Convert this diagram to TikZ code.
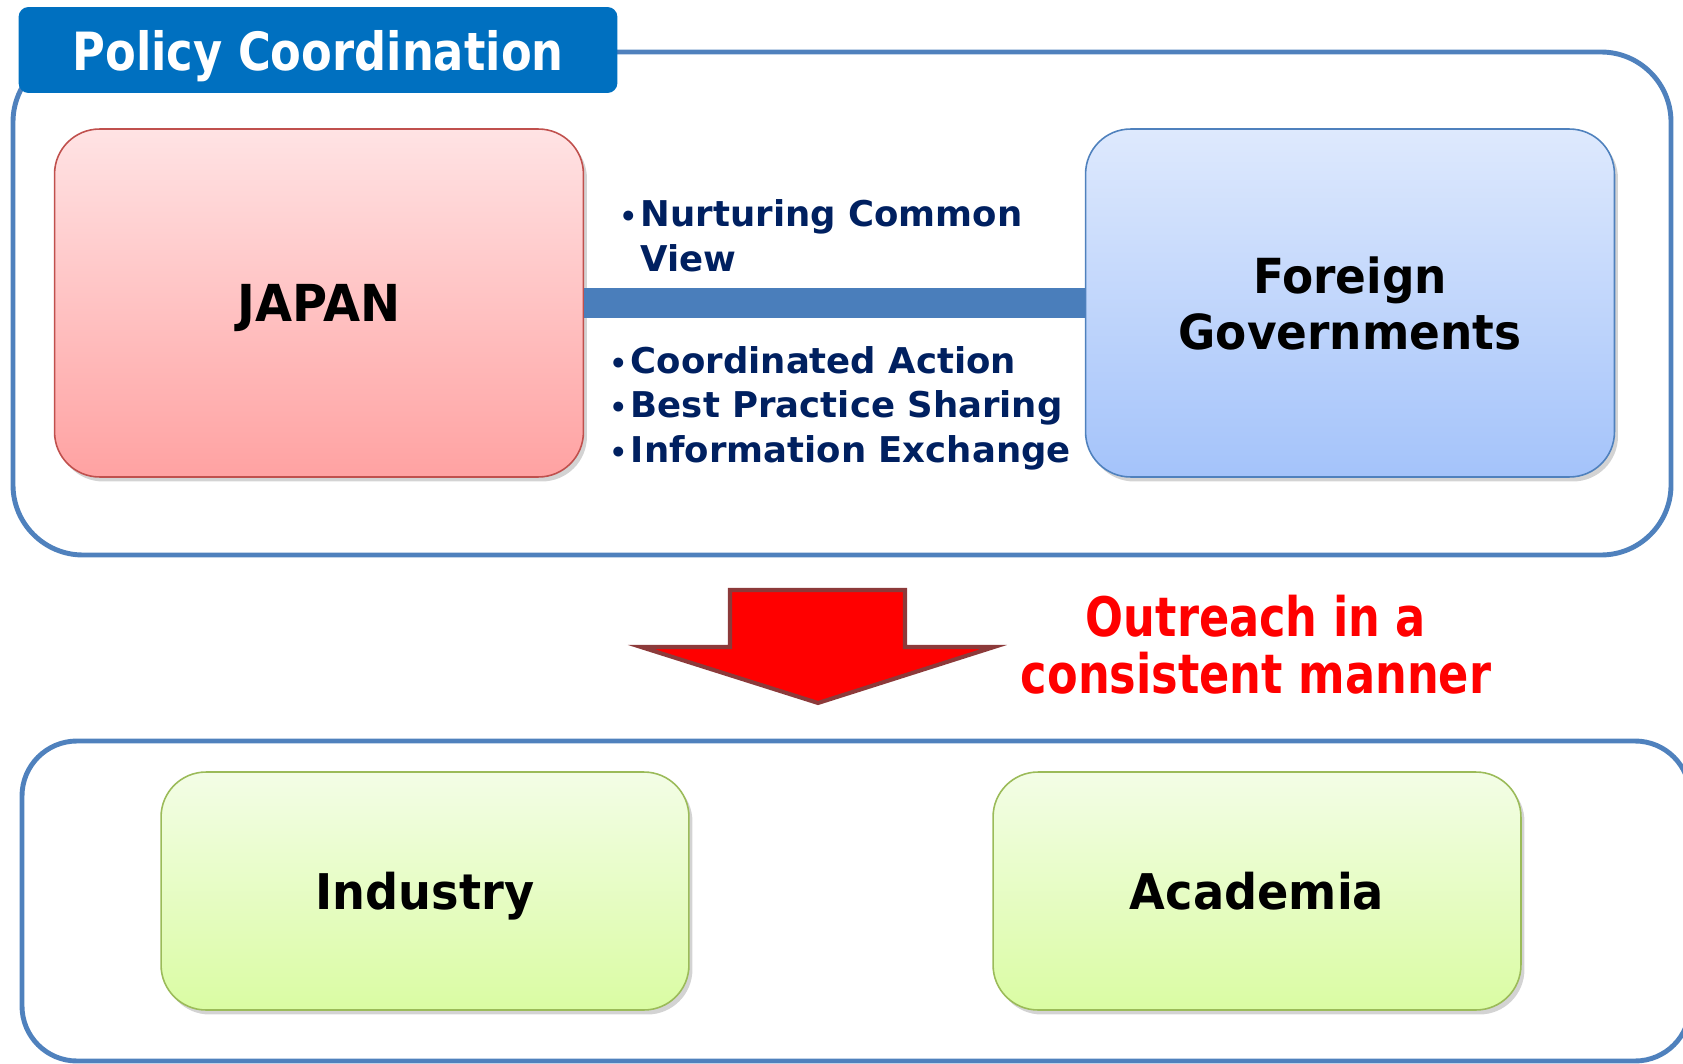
\documentclass[tikz,border=0pt]{standalone}
\usepackage{fontspec}
\setmainfont{DejaVu Sans}
\newfontfamily\tabfont[FakeStretch=0.85]{DejaVu Sans}
\newfontfamily\redfont[FakeStretch=0.82]{DejaVu Sans}
\newfontfamily\boxfont[FakeStretch=0.94]{DejaVu Sans}
\usetikzlibrary{shadows}
\definecolor{frameblue}{HTML}{4F81BD}
\definecolor{tabblue}{HTML}{0070C0}
\definecolor{barblue}{HTML}{4A7EBB}
\definecolor{navy}{HTML}{002060}
\definecolor{arrowedge}{HTML}{8C3A3A}
\definecolor{redtop}{HTML}{FFE3E4}
\definecolor{redbottom}{HTML}{FFA2A2}
\definecolor{rededge}{HTML}{C0504D}
\definecolor{bluetop}{HTML}{DEE9FD}
\definecolor{bluebottom}{HTML}{A4C3FA}
\definecolor{greentop}{HTML}{F3FDE6}
\definecolor{greenbottom}{HTML}{DAFCA3}
\definecolor{greenedge}{HTML}{9BBB59}
\newcommand{\bigdot}{{\fontsize{16}{16}\selectfont•}}

\begin{document}
\begin{tikzpicture}[x=0.02cm,y=-0.02cm,
    frame/.style={draw=frameblue, line width=2.8pt, rounded corners=1.4cm},
    box/.style={rounded corners=0.9cm, line width=0.9pt, inner sep=0pt, text depth=0pt,
        align=center, font=\boxfont\bfseries\fontsize{27.5}{32}\selectfont,
        drop shadow={shadow xshift=0.07cm, shadow yshift=-0.09cm, opacity=0.35}},
    redbox/.style={box, draw=rededge, top color=redtop, bottom color=redbottom,
        minimum width=10.58cm, minimum height=6.96cm},
    bluebox/.style={box, draw=frameblue, top color=bluetop, bottom color=bluebottom,
        minimum width=10.58cm, minimum height=6.96cm},
    greenbox/.style={box, draw=greenedge, top color=greentop, bottom color=greenbottom,
        minimum width=10.56cm, minimum height=4.76cm},
    bullets/.style={anchor=west, inner sep=0pt, text=navy, font=\bfseries\fontsize{20.2}{25.5}\selectfont}]

    \useasboundingbox (0,0) rectangle (1683,1064);
    \clip (0,0) rectangle (1683,1064);

    % upper part
    \draw[frame] (13,52) rectangle (1671,555);
    \node[fill=tabblue, rounded corners=0.2cm, minimum width=11.98cm, minimum height=1.72cm,
        text depth=0pt, text=white, font=\tabfont\bfseries\fontsize{30}{32}\selectfont]
        (tab) at (318,50) {Policy Coordination};

    \node[redbox] (japan) at (319,303) {\fontsize{29}{32}\selectfont JAPAN};
    \node[bluebox] (foreign) at (1350,303) {Foreign\\Governments};
    \draw[barblue, line width=17pt] (japan.east) -- (foreign.west);

    \node[bullets] (view) at (619,240)
        {\begin{tabular}{@{}l@{\hspace{2pt}}l@{}}\bigdot&Nurturing Common\\&View\end{tabular}};
    \node[bullets] (actions) at (609,409)
        {\begin{tabular}{@{}l@{\hspace{2pt}}l@{}}
            \bigdot&Coordinated Action\\
            \bigdot&Best Practice Sharing\\
            \bigdot&Information Exchange
        \end{tabular}};

    % arrow
    \draw[arrowedge, fill=red, line width=2.3pt, line join=miter]
        (730,590) -- (905,590) -- (905,647) -- (994,647) -- (818,703)
        -- (641,647) -- (730,647) -- cycle;
    \node[text=red, align=center, font=\redfont\bfseries\fontsize{31}{32.5}\selectfont]
        (outreach) at (1256,645) {Outreach in a\\consistent manner};

    % lower part
    \draw[frame, rounded corners=1.1cm] (22,741) rectangle (1690,1061);
    \node[greenbox] (industry) at (425,891) {\fontsize{28}{32}\selectfont Industry};
    \node[greenbox] (academia) at (1257,891) {\fontsize{28}{32}\selectfont Academia};

\end{tikzpicture}
\end{document}
